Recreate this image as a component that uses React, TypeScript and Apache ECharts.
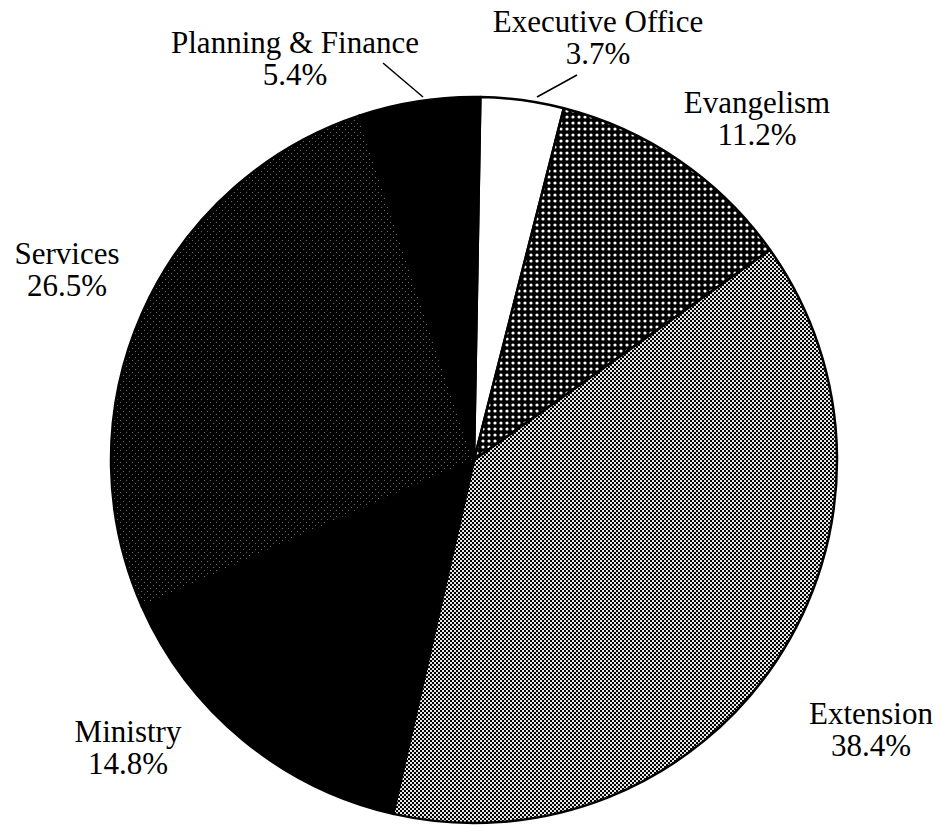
import React, { useEffect, useRef } from "react";
import * as echarts from "echarts";

const categories = ["Executive Office", "Evangelism", "Extension", "Ministry", "Services", "Planning & Finance"];
const values = [3.7, 11.2, 38.4, 14.8, 26.5, 5.4];

// label layout (text block centers) and leader lines
const labelCenters: [number, number][] = [
  [598, 37],
  [757, 118],
  [871, 729],
  [128, 747],
  [67, 269],
  [295, 58],
];
const leaderLines: ([number, number][] | null)[] = [
  [[577, 75], [557, 86], [537, 97]],
  null,
  null,
  null,
  null,
  [[383, 63], [403, 80], [423, 97]],
];

function makePattern(kind: string): any {
  const c = document.createElement("canvas");
  const ctx = c.getContext("2d")!;
  if (kind === "dots") {
    c.width = 6; c.height = 6;
    ctx.fillStyle = "#000"; ctx.fillRect(0, 0, 6, 6);
    ctx.fillStyle = "#fff";
    ctx.beginPath(); ctx.arc(3, 3, 1.6, 0, Math.PI * 2); ctx.fill();
  } else if (kind === "checker") {
    c.width = 4; c.height = 4;
    ctx.fillStyle = "#000"; ctx.fillRect(0, 0, 4, 4);
    ctx.fillStyle = "#e6e6e6";
    ctx.fillRect(0, 0, 2, 2); ctx.fillRect(2, 2, 2, 2);
  } else if (kind === "dark") {
    c.width = 6; c.height = 6;
    ctx.fillStyle = "#000"; ctx.fillRect(0, 0, 6, 6);
    ctx.fillStyle = "#6a6a6a";
    ctx.fillRect(0, 0, 1, 1); ctx.fillRect(3, 3, 1, 1);
  }
  return { image: c, repeat: "repeat" };
}

const FONT = "'Liberation Serif', Tinos, 'Times New Roman', 'DejaVu Serif', serif";

export default function App() {
  const ref = useRef<HTMLDivElement>(null);
  useEffect(() => {
    const chart = echarts.init(ref.current!, null, { renderer: "svg" });
    const fills: any[] = [
      "#ffffff",
      makePattern("dots"),
      makePattern("checker"),
      "#000000",
      makePattern("dark"),
      "#000000",
    ];
    chart.setOption({
      animation: false,
      backgroundColor: "#ffffff",
      textStyle: { fontFamily: FONT },
      series: [
        {
          type: "pie",
          center: [474, 460],
          radius: 363,
          startAngle: 89,
          clockwise: true,
          avoidLabelOverlap: false,
          data: categories.map((name, i) => ({
            name,
            value: values[i],
            itemStyle: { color: fills[i] },
            labelLine: { show: !!leaderLines[i] },
          })),
          itemStyle: { borderColor: "#000", borderWidth: 2.5 },
          emphasis: { disabled: true },
          label: {
            show: true,
            position: "outside",
            formatter: (p: any) => `${p.name}\n${Number(p.value).toFixed(1)}%`,
            fontFamily: FONT,
            fontSize: 31,
            lineHeight: 32,
            color: "#000",
            align: "center",
          },
          labelLine: { lineStyle: { color: "#000", width: 1.5 } },
          labelLayout: (params: any) => {
            const i = params.dataIndex;
            const [x, y] = labelCenters[i];
            const res: any = { x, y, align: "center", verticalAlign: "middle" };
            if (leaderLines[i]) res.labelLinePoints = leaderLines[i];
            return res;
          },
        },
      ],
    });
    return () => chart.dispose();
  }, []);
  return (
    <div
      ref={ref}
      style={{ position: "fixed", left: 0, top: 0, width: 941, height: 828 }}
    />
  );
}
